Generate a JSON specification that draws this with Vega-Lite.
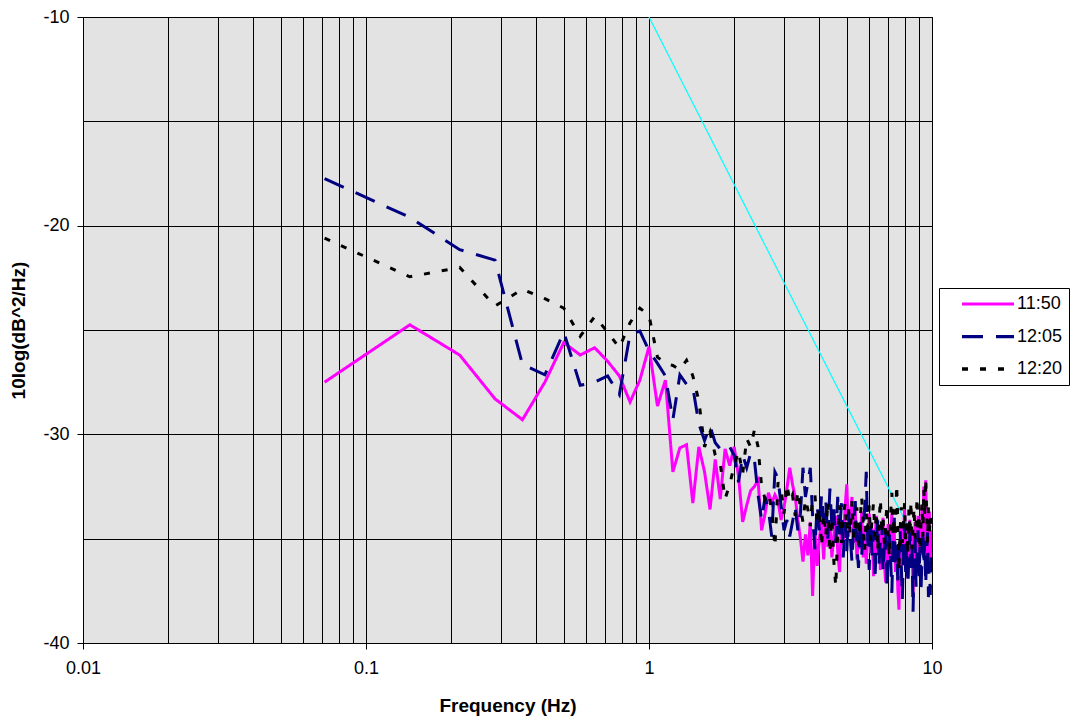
{
  "$schema": "https://vega.github.io/schema/vega-lite/v6.json",
  "width": 849,
  "height": 626,
  "autosize": {"type": "none"},
  "padding": {"left": 83, "top": 17, "right": 146, "bottom": 74},
  "background": "white",
  "config": {
    "view": {"stroke": "black", "strokeWidth": 1, "fill": "#E3E3E3"},
    "axis": {
      "domain": false,
      "gridColor": "black",
      "gridOpacity": 1,
      "gridWidth": 1,
      "tickColor": "black",
      "tickSize": 6,
      "labelFont": "Liberation Sans",
      "labelFontSize": 18,
      "labelColor": "black",
      "titleFont": "Liberation Sans",
      "titleFontSize": 19,
      "titleFontWeight": "bold",
      "titleColor": "black"
    },
    "legend": {
      "labelFont": "Liberation Sans",
      "labelFontSize": 18,
      "labelColor": "black"
    }
  },
  "encoding": {
    "x": {
      "field": "f",
      "type": "quantitative",
      "scale": {"type": "log", "domain": [0.01, 10], "nice": false},
      "axis": {
        "title": "Frequency (Hz)",
        "values": [0.01,0.02,0.03,0.04,0.05,0.06,0.07,0.08,0.09,0.1,0.2,0.3,0.4,0.5,0.6,0.7,0.8,0.9,1,2,3,4,5,6,7,8,9,10],
        "format": "~g",
        "labelExpr": "(datum.value == 0.01 || datum.value == 0.1 || datum.value == 1 || datum.value == 10) ? datum.label : ''",
        "tickOpacity": {"condition": {"test": "datum.value == 0.01 || datum.value == 0.1 || datum.value == 1 || datum.value == 10", "value": 1}, "value": 0},
        "labelPadding": 10,
        "labelFlush": false,
        "labelOverlap": false,
        "titlePadding": 19
      }
    },
    "y": {
      "field": "v",
      "type": "quantitative",
      "scale": {"domain": [-40, -10], "nice": false, "zero": false},
      "axis": {
        "title": "10log(dB^2/Hz)",
        "values": [-40,-35,-30,-25,-20,-15,-10],
        "labelExpr": "datum.value % 10 == 0 ? '' + datum.value : ''",
        "tickOpacity": {"condition": {"test": "datum.value % 10 == 0", "value": 1}, "value": 0},
        "labelPadding": 8,
        "labelOverlap": false,
        "titlePadding": 14
      }
    }
  },
  "layer": [
    {
      "data": {"values": [{"f": 1, "v": -10}, {"f": 10, "v": -36.67}]},
      "mark": {"type": "line", "color": "#00FFFF", "strokeWidth": 1.2, "clip": true}
    },
    {
      "data": {"values": [
{"f":0.0714,"11:50":-27.5,"12:05":-17.75,"12:20":-20.6},
{"f":0.1429,"11:50":-24.75,"12:05":-19.6,"12:20":-22.45},
{"f":0.2143,"11:50":-26.2,"12:05":-21.15,"12:20":-22.0},
{"f":0.2857,"11:50":-28.3,"12:05":-21.65,"12:20":-23.85},
{"f":0.3571,"11:50":-29.3,"12:05":-26.65,"12:20":-23.05},
{"f":0.4286,"11:50":-27.5,"12:05":-27.15,"12:20":-23.5},
{"f":0.5,"11:50":-25.6,"12:05":-25.1,"12:20":-23.95},
{"f":0.5714,"11:50":-26.2,"12:05":-27.65,"12:20":-25.3},
{"f":0.6429,"11:50":-25.85,"12:05":-27.5,"12:20":-24.35},
{"f":0.7143,"11:50":-26.5,"12:05":-27.2,"12:20":-25.1},
{"f":0.7857,"11:50":-27.2,"12:05":-28.1,"12:20":-25.85},
{"f":0.8571,"11:50":-28.45,"12:05":-25.2,"12:20":-24.65},
{"f":0.9286,"11:50":-27.4,"12:05":-25.05,"12:20":-23.95},
{"f":1,"11:50":-25.8,"12:05":-26.0,"12:20":-24.3},
{"f":1.0714,"11:50":-28.65,"12:05":-26.6,"12:20":-26.3},
{"f":1.1429,"11:50":-27.4,"12:05":-27.2,"12:20":-26.6},
{"f":1.2143,"11:50":-31.8,"12:05":-29.3,"12:20":-26.7},
{"f":1.2857,"11:50":-30.65,"12:05":-27.15,"12:20":-26.9},
{"f":1.3571,"11:50":-30.5,"12:05":-27.6,"12:20":-26.45},
{"f":1.4286,"11:50":-33.3,"12:05":-27.75,"12:20":-27.2},
{"f":1.5,"11:50":-30.6,"12:05":-29.5,"12:20":-28.4},
{"f":1.5714,"11:50":-31.8,"12:05":-30.3,"12:20":-30.6},
{"f":1.6429,"11:50":-33.6,"12:05":-29.6,"12:20":-29.9},
{"f":1.7143,"11:50":-31.2,"12:05":-30.4,"12:20":-31.0},
{"f":1.7857,"11:50":-33.1,"12:05":-30.7,"12:20":-31.4},
{"f":1.8571,"11:50":-30.7,"12:05":-30.5,"12:20":-33.1},
{"f":1.9286,"11:50":-31.5,"12:05":-30.6,"12:20":-32.4},
{"f":2,"11:50":-30.6,"12:05":-31.0,"12:20":-31.5},
{"f":2.0714,"11:50":-32.0,"12:05":-32.3,"12:20":-30.8},
{"f":2.1429,"11:50":-34.2,"12:05":-31.0,"12:20":-31.9},
{"f":2.2143,"11:50":-33.4,"12:05":-31.6,"12:20":-30.2},
{"f":2.2857,"11:50":-32.7,"12:05":-30.9,"12:20":-30.6},
{"f":2.3571,"11:50":-32.5,"12:05":-31.2,"12:20":-29.8},
{"f":2.4286,"11:50":-32.2,"12:05":-32.9,"12:20":-30.6},
{"f":2.5,"11:50":-34.6,"12:05":-34.1,"12:20":-32.5},
{"f":2.5714,"11:50":-33.8,"12:05":-33.0,"12:20":-33.1},
{"f":2.6429,"11:50":-32.8,"12:05":-33.6,"12:20":-32.8},
{"f":2.7143,"11:50":-33.3,"12:05":-34.9,"12:20":-33.6},
{"f":2.7857,"11:50":-32.9,"12:05":-31.8,"12:20":-35.4},
{"f":2.8571,"11:50":-33.2,"12:05":-32.1,"12:20":-32.3},
{"f":2.9286,"11:50":-34.1,"12:05":-33.4,"12:20":-32.6},
{"f":3,"11:50":-33.5,"12:05":-34.6,"12:20":-33.8},
{"f":3.0714,"11:50":-32.6,"12:05":-34.1,"12:20":-32.4},
{"f":3.1429,"11:50":-31.6,"12:05":-34.9,"12:20":-33.2},
{"f":3.2143,"11:50":-32.4,"12:05":-34.2,"12:20":-32.9},
{"f":3.2857,"11:50":-33.0,"12:05":-33.5,"12:20":-33.9},
{"f":3.3571,"11:50":-34.1,"12:05":-34.6,"12:20":-32.7},
{"f":3.4286,"11:50":-35.0,"12:05":-33.8,"12:20":-33.5},
{"f":3.5,"11:50":-36.1,"12:05":-31.6,"12:20":-34.2},
{"f":3.5714,"11:50":-34.8,"12:05":-33.0,"12:20":-33.1},
{"f":3.6429,"11:50":-35.8,"12:05":-32.3,"12:20":-33.6},
{"f":3.7143,"11:50":-34.2,"12:05":-31.6,"12:20":-34.4},
{"f":3.7857,"11:50":-37.75,"12:05":-33.9,"12:20":-33.0},
{"f":3.8571,"11:50":-34.6,"12:05":-35.5,"12:20":-32.9},
{"f":3.9286,"11:50":-36.3,"12:05":-33.4,"12:20":-34.3},
{"f":4,"11:50":-35.0,"12:05":-34.6,"12:20":-33.5},
{"f":4.0714,"11:50":-34.2,"12:05":-32.9,"12:20":-35.4},
{"f":4.1429,"11:50":-36.0,"12:05":-34.1,"12:20":-33.8},
{"f":4.2143,"11:50":-33.9,"12:05":-33.2,"12:20":-34.9},
{"f":4.2857,"11:50":-35.4,"12:05":-35.0,"12:20":-33.2},
{"f":4.3571,"11:50":-34.3,"12:05":-32.6,"12:20":-35.7},
{"f":4.4286,"11:50":-35.9,"12:05":-34.4,"12:20":-34.0},
{"f":4.5,"11:50":-34.8,"12:05":-33.6,"12:20":-36.1},
{"f":4.5714,"11:50":-33.9,"12:05":-35.2,"12:20":-37.3},
{"f":4.6429,"11:50":-35.6,"12:05":-33.0,"12:20":-34.7},
{"f":4.7143,"11:50":-36.6,"12:05":-34.8,"12:20":-33.4},
{"f":4.7857,"11:50":-34.1,"12:05":-33.3,"12:20":-35.2},
{"f":4.8571,"11:50":-35.3,"12:05":-35.9,"12:20":-34.0},
{"f":4.9286,"11:50":-33.5,"12:05":-34.2,"12:20":-33.3},
{"f":5,"11:50":-32.4,"12:05":-35.6,"12:20":-34.6},
{"f":5.0714,"11:50":-34.9,"12:05":-33.7,"12:20":-33.6},
{"f":5.1429,"11:50":-34.0,"12:05":-34.9,"12:20":-34.8},
{"f":5.2143,"11:50":-33.0,"12:05":-36.1,"12:20":-33.2},
{"f":5.2857,"11:50":-35.2,"12:05":-34.4,"12:20":-35.0},
{"f":5.3571,"11:50":-33.6,"12:05":-33.2,"12:20":-34.1},
{"f":5.4286,"11:50":-36.0,"12:05":-35.4,"12:20":-33.5},
{"f":5.5,"11:50":-34.7,"12:05":-36.4,"12:20":-35.3},
{"f":5.5714,"11:50":-35.5,"12:05":-34.0,"12:20":-34.2},
{"f":5.6429,"11:50":-33.7,"12:05":-35.8,"12:20":-33.0},
{"f":5.7143,"11:50":-35.9,"12:05":-34.5,"12:20":-34.4},
{"f":5.7857,"11:50":-34.4,"12:05":-33.5,"12:20":-35.6},
{"f":5.8571,"11:50":-36.2,"12:05":-31.8,"12:20":-33.8},
{"f":5.9286,"11:50":-35.0,"12:05":-35.1,"12:20":-34.6},
{"f":6,"11:50":-33.8,"12:05":-36.5,"12:20":-33.4},
{"f":6.0714,"11:50":-35.7,"12:05":-34.3,"12:20":-35.1},
{"f":6.1429,"11:50":-34.5,"12:05":-35.8,"12:20":-34.0},
{"f":6.2143,"11:50":-36.8,"12:05":-34.6,"12:20":-33.3},
{"f":6.2857,"11:50":-35.2,"12:05":-37.0,"12:20":-34.9},
{"f":6.3571,"11:50":-33.9,"12:05":-35.3,"12:20":-33.7},
{"f":6.4286,"11:50":-35.8,"12:05":-34.1,"12:20":-35.6},
{"f":6.5,"11:50":-34.6,"12:05":-36.3,"12:20":-34.2},
{"f":6.5714,"11:50":-36.5,"12:05":-35.0,"12:20":-33.1},
{"f":6.6429,"11:50":-35.1,"12:05":-34.2,"12:20":-34.8},
{"f":6.7143,"11:50":-34.0,"12:05":-36.6,"12:20":-33.9},
{"f":6.7857,"11:50":-36.1,"12:05":-35.4,"12:20":-35.3},
{"f":6.8571,"11:50":-37.1,"12:05":-34.5,"12:20":-34.3},
{"f":6.9286,"11:50":-35.4,"12:05":-37.4,"12:20":-33.4},
{"f":7,"11:50":-34.3,"12:05":-35.7,"12:20":-34.7},
{"f":7.0714,"11:50":-36.2,"12:05":-34.8,"12:20":-35.9},
{"f":7.1429,"11:50":-35.0,"12:05":-36.0,"12:20":-33.8},
{"f":7.2143,"11:50":-33.8,"12:05":-37.6,"12:20":-32.8},
{"f":7.2857,"11:50":-35.9,"12:05":-35.1,"12:20":-34.9},
{"f":7.3571,"11:50":-34.7,"12:05":-34.0,"12:20":-33.6},
{"f":7.4286,"11:50":-36.6,"12:05":-36.4,"12:20":-35.0},
{"f":7.5,"11:50":-35.3,"12:05":-35.3,"12:20":-32.4},
{"f":7.5714,"11:50":-37.4,"12:05":-37.0,"12:20":-34.1},
{"f":7.6429,"11:50":-38.4,"12:05":-35.7,"12:20":-36.6},
{"f":7.7143,"11:50":-35.6,"12:05":-34.6,"12:20":-34.6},
{"f":7.7857,"11:50":-34.4,"12:05":-36.2,"12:20":-33.5},
{"f":7.8571,"11:50":-36.3,"12:05":-37.9,"12:20":-35.2},
{"f":7.9286,"11:50":-35.0,"12:05":-35.5,"12:20":-34.3},
{"f":8,"11:50":-33.6,"12:05":-34.3,"12:20":-33.3},
{"f":8.0714,"11:50":-35.6,"12:05":-36.7,"12:20":-35.1},
{"f":8.1429,"11:50":-34.3,"12:05":-35.2,"12:20":-34.0},
{"f":8.2143,"11:50":-36.9,"12:05":-37.2,"12:20":-35.8},
{"f":8.2857,"11:50":-35.4,"12:05":-35.8,"12:20":-33.6},
{"f":8.3571,"11:50":-34.1,"12:05":-34.7,"12:20":-34.8},
{"f":8.4286,"11:50":-36.0,"12:05":-36.4,"12:20":-33.2},
{"f":8.5,"11:50":-34.8,"12:05":-35.3,"12:20":-35.5},
{"f":8.5714,"11:50":-37.8,"12:05":-38.5,"12:20":-34.4},
{"f":8.6429,"11:50":-35.5,"12:05":-36.0,"12:20":-33.5},
{"f":8.7143,"11:50":-34.2,"12:05":-35.0,"12:20":-35.0},
{"f":8.7857,"11:50":-36.4,"12:05":-37.3,"12:20":-34.2},
{"f":8.8571,"11:50":-35.1,"12:05":-35.6,"12:20":-33.0},
{"f":8.9286,"11:50":-33.9,"12:05":-34.6,"12:20":-34.7},
{"f":9,"11:50":-36.2,"12:05":-36.8,"12:20":-33.8},
{"f":9.0714,"11:50":-34.6,"12:05":-35.4,"12:20":-35.6},
{"f":9.1429,"11:50":-35.8,"12:05":-37.6,"12:20":-34.3},
{"f":9.2143,"11:50":-33.4,"12:05":-35.9,"12:20":-33.3},
{"f":9.2857,"11:50":-34.9,"12:05":-34.5,"12:20":-34.9},
{"f":9.3571,"11:50":-32.5,"12:05":-36.3,"12:20":-32.6},
{"f":9.4286,"11:50":-35.2,"12:05":-35.1,"12:20":-34.0},
{"f":9.5,"11:50":-32.2,"12:05":-37.2,"12:20":-32.1},
{"f":9.5714,"11:50":-34.8,"12:05":-35.8,"12:20":-33.6},
{"f":9.6429,"11:50":-36.3,"12:05":-34.7,"12:20":-35.2},
{"f":9.7143,"11:50":-35.0,"12:05":-37.8,"12:20":-33.5},
{"f":9.7857,"11:50":-33.7,"12:05":-36.1,"12:20":-34.8},
{"f":9.8571,"11:50":-36.0,"12:05":-37.7,"12:20":-33.9},
{"f":9.9286,"11:50":-34.6,"12:05":-35.9,"12:20":-34.4},
{"f":10,"11:50":-35.3,"12:05":-36.5,"12:20":-34.1}
      ]},
      "transform": [{"fold": ["11:50", "12:05", "12:20"], "as": ["series", "v"]}],
      "mark": {"type": "line", "strokeWidth": 3, "strokeCap": "butt", "clip": true},
      "encoding": {
        "color": {
          "field": "series",
          "type": "nominal",
          "scale": {"domain": ["11:50", "12:05", "12:20"], "range": ["#FF00FF", "#000080", "#000000"]},
          "legend": {
            "title": null,
            "orient": "none",
            "legendX": 856,
            "legendY": 271,
            "strokeColor": "black",
            "fillColor": "white",
            "padding": 6,
            "symbolType": "stroke",
            "symbolSize": 2704,
            "symbolStrokeWidth": 3,
            "symbolOffset": 15,
            "clipHeight": 20,
            "rowPadding": 12.5,
            "labelOffset": 1
          }
        },
        "strokeDash": {
          "field": "series",
          "type": "nominal",
          "scale": {"domain": ["11:50", "12:05", "12:20"], "range": [[1, 0], [21, 13], [6, 12]]}
        },
        "strokeWidth": {
          "field": "series",
          "type": "nominal",
          "scale": {"domain": ["11:50", "12:05", "12:20"], "range": [3, 3.5, 3.5]},
          "legend": null
        }
      }
    }
  ]
}
